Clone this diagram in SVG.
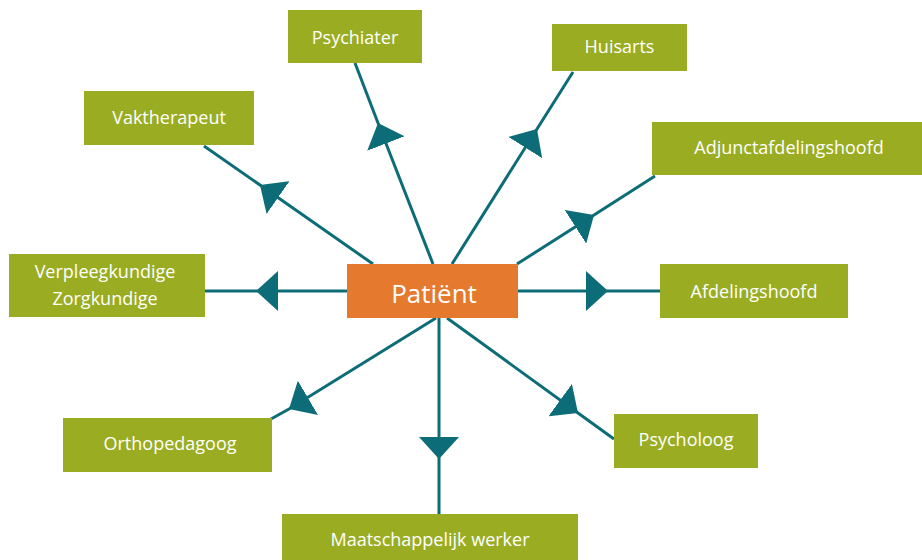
<svg xmlns="http://www.w3.org/2000/svg" width="922" height="560" viewBox="0 0 922 560">
<style>
.box{fill:#9aad22}
.center{fill:#e5792d}
.lbl{font-family:"Open Sans","Noto Sans","Liberation Sans",sans-serif;font-size:18px;fill:#ffffff;text-anchor:middle}
.big{font-size:26px}
.conn{stroke:#0c6d78;stroke-width:3;fill:none;marker-mid:url(#arr)}
</style>
<defs>
<marker id="arr" markerUnits="userSpaceOnUse" viewBox="0 -20 22 40" markerWidth="22" markerHeight="40" refX="22" refY="0" orient="auto">
<path d="M0,-20 L22,0 L0,20 Z" fill="#0c6d78"/>
</marker>
</defs>
<rect width="922" height="560" fill="#ffffff"/>
<g id="connectors">
<polyline class="conn" points="373,264 260,185 204,146"/>
<polyline class="conn" points="433,264 378,123 355,63"/>
<polyline class="conn" points="452,264 537,129 573,72"/>
<polyline class="conn" points="517,264 594,215 655,176"/>
<polyline class="conn" points="517,291 608,291 660,291"/>
<polyline class="conn" points="347,291 256,291 205,291"/>
<polyline class="conn" points="439,318 439,459 439,514"/>
<polyline class="conn" points="436,318 289,409 271,419"/>
<polyline class="conn" points="447,318 578,413 614,439"/>
</g>
<g id="psychiater"><rect class="box" x="288" y="10" width="134" height="53"/><text class="lbl" x="355" y="44">Psychiater</text></g>
<g id="huisarts"><rect class="box" x="552" y="24" width="135" height="47"/><text class="lbl" x="619.5" y="53">Huisarts</text></g>
<g id="vaktherapeut"><rect class="box" x="84" y="91" width="170" height="54"/><text class="lbl" x="169" y="124">Vaktherapeut</text></g>
<g id="adjunctafdelingshoofd"><rect class="box" x="652" y="122" width="270" height="53"/><text class="lbl" x="789" y="154">Adjunctafdelingshoofd</text></g>
<g id="verpleegkundige"><rect class="box" x="9" y="254" width="196" height="63"/><text class="lbl" x="105" y="278">Verpleegkundige</text><text class="lbl" x="105" y="305">Zorgkundige</text></g>
<g id="afdelingshoofd"><rect class="box" x="660" y="264" width="188" height="54"/><text class="lbl" x="754" y="298">Afdelingshoofd</text></g>
<g id="patient"><rect class="center" x="347" y="264" width="171" height="54"/><text class="lbl big" x="434" y="303">Patiënt</text></g>
<g id="orthopedagoog"><rect class="box" x="63" y="418" width="209" height="54"/><text class="lbl" x="170" y="450">Orthopedagoog</text></g>
<g id="psycholoog"><rect class="box" x="614" y="414" width="144" height="54"/><text class="lbl" x="686" y="446">Psycholoog</text></g>
<g id="maatschappelijk-werker"><rect class="box" x="282" y="514" width="296" height="46"/><text class="lbl" x="430" y="546">Maatschappelijk werker</text></g>
</svg>
